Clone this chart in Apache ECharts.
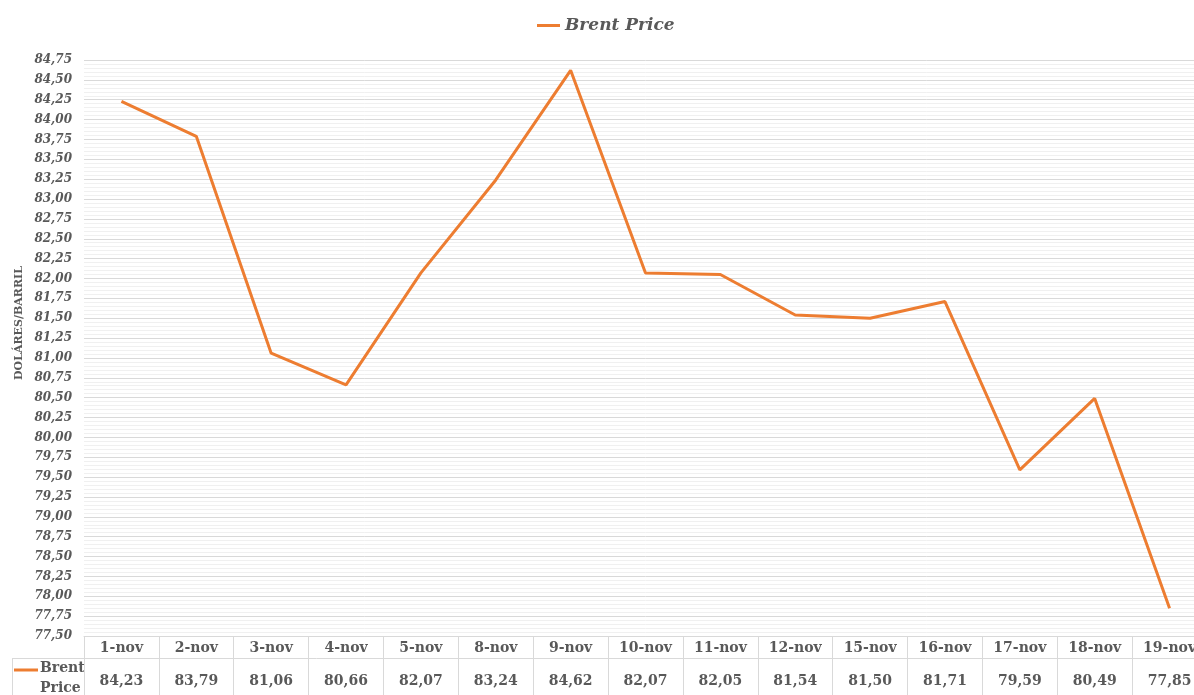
<!DOCTYPE html>
<html>
<head>
<meta charset="utf-8">
<script src="https://cdn.jsdelivr.net/npm/echarts@6/dist/echarts.min.js"></script>
<style>html,body{margin:0;padding:0;background:#fff;overflow:hidden;width:1194px;height:695px;}#c{width:1230px;height:695px;}</style>
</head>
<body>
<div id="c"></div>
<script>
var categories = ['1-nov','2-nov','3-nov','4-nov','5-nov','8-nov','9-nov','10-nov','11-nov','12-nov','15-nov','16-nov','17-nov','18-nov','19-nov'];
var brentPrice = [84.23,83.79,81.06,80.66,82.07,83.24,84.62,82.07,82.05,81.54,81.50,81.71,79.59,80.49,77.85];
var seriesName = 'Brent Price';
var yTitle = 'DOLÁRES/BARRIL';

function fmt(v){ return Number(v).toFixed(2).replace('.', ','); }
var serif = '"DejaVu Serif", "Liberation Serif", serif';
var grey = '#595959';

var chart = echarts.init(document.getElementById('c'));
chart.setOption({
  animation: false,
  backgroundColor: '#fff',
  legend: {
    top: 12, left: 532,
    itemWidth: 23, itemHeight: 3, itemGap: 3,
    icon: 'rect',
    textStyle: {fontFamily: serif, fontStyle: 'italic', fontWeight: 'bold', fontSize: 17, color: grey},
    data: [seriesName]
  },
  grid: {left: 84, top: 60, width: 1123, bottom: 59, containLabel: false},
  xAxis: [{
    type: 'category',
    data: categories,
    boundaryGap: true,
    axisLine: {show: true, lineStyle: {color: '#d9d9d9', width: 1}},
    axisTick: {show: true, interval: 0, length: 62, lineStyle: {color: '#d9d9d9'}},
    axisLabel: {interval: 0, margin: 5, fontFamily: serif, fontWeight: 'bold', fontSize: 14, color: grey}
  }, {
    type: 'category',
    position: 'bottom',
    offset: 32,
    data: brentPrice.map(fmt),
    boundaryGap: true,
    axisLine: {show: false},
    axisTick: {show: false},
    axisLabel: {interval: 0, margin: 6, fontFamily: serif, fontWeight: 'bold', fontSize: 14, color: grey}
  }],
  yAxis: {
    type: 'value',
    min: 77.5, max: 84.75, interval: 0.25,
    axisLine: {show: false},
    axisTick: {show: false},
    axisLabel: {formatter: fmt, margin: 12, fontFamily: serif, fontStyle: 'italic', fontWeight: 'bold', fontSize: 12, color: grey},
    splitLine: {show: true, lineStyle: {color: '#d9d9d9', width: 1}},
    minorTick: {show: false, splitNumber: 5},
    minorSplitLine: {show: true, lineStyle: {color: '#f0f0f0', width: 1}}
  },
  series: [{
    name: seriesName,
    type: 'line',
    data: brentPrice,
    showSymbol: false,
    symbol: 'none',
    lineStyle: {color: '#ED7D31', width: 3},
    itemStyle: {color: '#ED7D31'}
  }],
  graphic: [
    {type: 'text', x: 19, y: 323, rotation: Math.PI / 2, style: {text: yTitle, font: 'bold 11px ' + serif, fill: grey, align: 'center', verticalAlign: 'middle'}},
    {type: 'line', shape: {x1: 12, y1: 658.5, x2: 1230, y2: 658.5}, style: {stroke: '#d9d9d9', lineWidth: 1}},
    {type: 'line', shape: {x1: 12.5, y1: 658, x2: 12.5, y2: 695}, style: {stroke: '#d9d9d9', lineWidth: 1}},
    {type: 'line', shape: {x1: 14, y1: 670, x2: 38, y2: 670}, style: {stroke: '#ED7D31', lineWidth: 3}},
    {type: 'text', left: 40, top: 661, style: {text: 'Brent', font: 'bold 14px ' + serif, fill: grey}},
    {type: 'text', left: 40, top: 681, style: {text: 'Price', font: 'bold 14px ' + serif, fill: grey}}
  ]
});
</script>
</body>
</html>
